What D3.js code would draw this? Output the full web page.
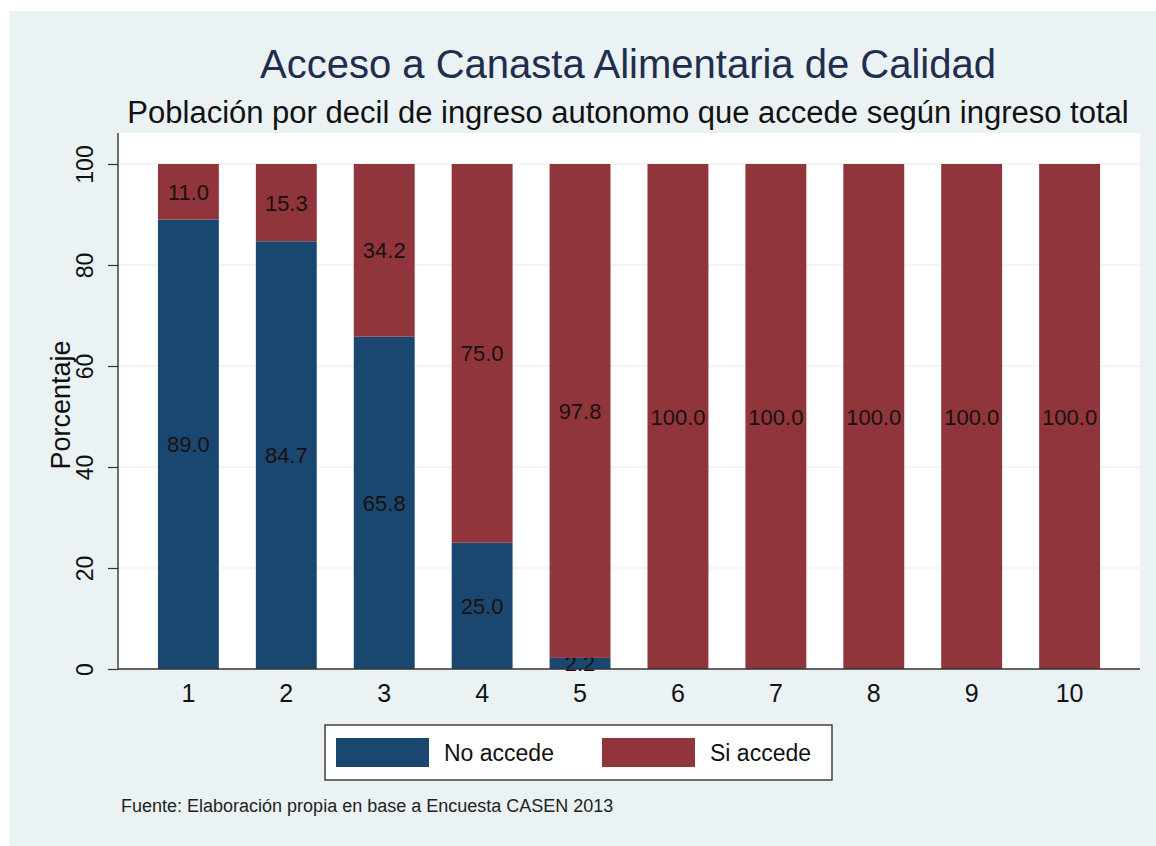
<!DOCTYPE html>
<html>
<head>
<meta charset="utf-8">
<script src="https://cdn.jsdelivr.net/npm/d3@7"></script>
<style>
  body { margin: 0; background: #fff; }
  text { font-family: "Liberation Sans", Arial, sans-serif; }
</style>
</head>
<body>
<script>
// deciles de ingreso autonomo
var deciles = ["1", "2", "3", "4", "5", "6", "7", "8", "9", "10"];
var noAccede = [89.0, 84.7, 65.8, 25.0, 2.2, 0, 0, 0, 0, 0];
var siAccede = [11.0, 15.3, 34.2, 75.0, 97.8, 100.0, 100.0, 100.0, 100.0, 100.0];
var yTicks = [0, 20, 40, 60, 80, 100];
var seriesNames = ["No accede", "Si accede"];

var w = 1156;
var h = 846;
var colors = {"No accede": "#1a476f", "Si accede": "#90353b"};

var svg = d3.select("body")
  .append("svg")
  .attr("width", w)
  .attr("height", h);

// fondo estilo stata
svg.append("rect")
  .attr("x", 9).attr("y", 11)
  .attr("width", w - 9).attr("height", h - 11)
  .attr("fill", "#eaf2f3");

var plot = {left: 118, right: 1140, top: 133, bottom: 669};

svg.append("rect")
  .attr("x", plot.left).attr("y", plot.top)
  .attr("width", plot.right - plot.left).attr("height", plot.bottom - plot.top)
  .attr("fill", "#fff");

var x = d3.scaleBand()
  .domain(deciles)
  .range([plot.left, plot.right])
  .paddingInner(0.378)
  .paddingOuter(0.408);

var y = d3.scaleLinear()
  .domain([0, 100])
  .range([plot.bottom, 164]);

// grid
svg.selectAll(".grid")
  .data(yTicks.filter(function(d) { return d > 0; }))
  .enter()
  .append("line")
  .attr("x1", plot.left).attr("x2", plot.right)
  .attr("y1", function(d) { return y(d); })
  .attr("y2", function(d) { return y(d); })
  .attr("stroke", "#e8eceb")
  .attr("stroke-width", 1.2);

var rows = deciles.map(function(d, i) {
  return {decil: d, "No accede": noAccede[i], "Si accede": siAccede[i]};
});
var stacked = d3.stack().keys(seriesNames)(rows);

var layers = svg.selectAll(".layer")
  .data(stacked)
  .enter()
  .append("g")
  .attr("fill", function(d) { return colors[d.key]; });

layers.selectAll("rect")
  .data(function(d) { return d; })
  .enter()
  .append("rect")
  .attr("x", function(d) { return x(d.data.decil); })
  .attr("width", x.bandwidth())
  .attr("y", function(d) { return y(d[1]); })
  .attr("height", function(d) { return y(d[0]) - y(d[1]); });

// etiquetas de barra (centro)
layers.selectAll("text")
  .data(function(d) { return d.filter(function(s) { return s[1] - s[0] > 0; }); })
  .enter()
  .append("text")
  .text(function(d) { return (d[1] - d[0]).toFixed(1); })
  .attr("x", function(d) { return x(d.data.decil) + x.bandwidth() / 2; })
  .attr("y", function(d) { return y((d[0] + d[1]) / 2) + 8; })
  .attr("text-anchor", "middle")
  .attr("font-size", "22px")
  .attr("fill", "#1a1010");

// ejes
var yAxis = svg.append("g")
  .attr("transform", "translate(" + plot.left + ",0)")
  .call(d3.axisLeft(y).tickValues(yTicks).tickSize(10).tickPadding(0).tickFormat(d3.format("d")));
yAxis.select(".domain").attr("d", "M0," + plot.top + "V" + plot.bottom).attr("stroke", "#333").attr("stroke-width", 1.4);
yAxis.selectAll(".tick line").attr("stroke", "#333").attr("stroke-width", 1.2);
yAxis.selectAll(".tick text")
  .attr("transform", "translate(-25,0) rotate(-90)")
  .attr("x", 0).attr("dy", 0)
  .attr("text-anchor", "middle")
  .attr("font-size", "23px")
  .attr("fill", "#111")
  .attr("font-family", "Liberation Sans, Arial, sans-serif");

var xAxis = svg.append("g")
  .attr("transform", "translate(0," + plot.bottom + ")")
  .call(d3.axisBottom(x).tickSize(0).tickPadding(15));
xAxis.select(".domain").attr("d", "M" + plot.left + ",0H" + plot.right).attr("stroke", "#333").attr("stroke-width", 1.4);
xAxis.selectAll(".tick text")
  .attr("font-size", "25px")
  .attr("fill", "#111")
  .attr("font-family", "Liberation Sans, Arial, sans-serif");

svg.append("text")
  .attr("transform", "translate(70,405) rotate(-90)")
  .attr("text-anchor", "middle")
  .attr("font-size", "27px")
  .attr("fill", "#111")
  .text("Porcentaje");

// titulos
svg.append("text")
  .attr("x", 628).attr("y", 78)
  .attr("text-anchor", "middle")
  .attr("font-size", "40px")
  .attr("fill", "#1f2d4e")
  .text("Acceso a Canasta Alimentaria de Calidad");

svg.append("text")
  .attr("x", 628).attr("y", 123)
  .attr("text-anchor", "middle")
  .attr("font-size", "31px")
  .attr("fill", "#111")
  .text("Población por decil de ingreso autonomo que accede según ingreso total");

// leyenda
var legend = svg.append("g");
legend.append("rect")
  .attr("x", 325).attr("y", 725)
  .attr("width", 507).attr("height", 55)
  .attr("fill", "#fff")
  .attr("stroke", "#333")
  .attr("stroke-width", 1.4);

var items = legend.selectAll(".item")
  .data(seriesNames)
  .enter()
  .append("g")
  .attr("transform", function(d, i) { return "translate(" + (336 + i * 266) + ",738)"; });

items.append("rect")
  .attr("width", 93).attr("height", 29)
  .attr("fill", function(d) { return colors[d]; });

items.append("text")
  .attr("x", 108).attr("y", 23)
  .attr("font-size", "23px")
  .attr("fill", "#111")
  .text(function(d) { return d; });

svg.append("text")
  .attr("x", 121).attr("y", 812)
  .attr("font-size", "18px")
  .attr("fill", "#222")
  .text("Fuente: Elaboración propia en base a Encuesta CASEN 2013");
</script>
</body>
</html>
